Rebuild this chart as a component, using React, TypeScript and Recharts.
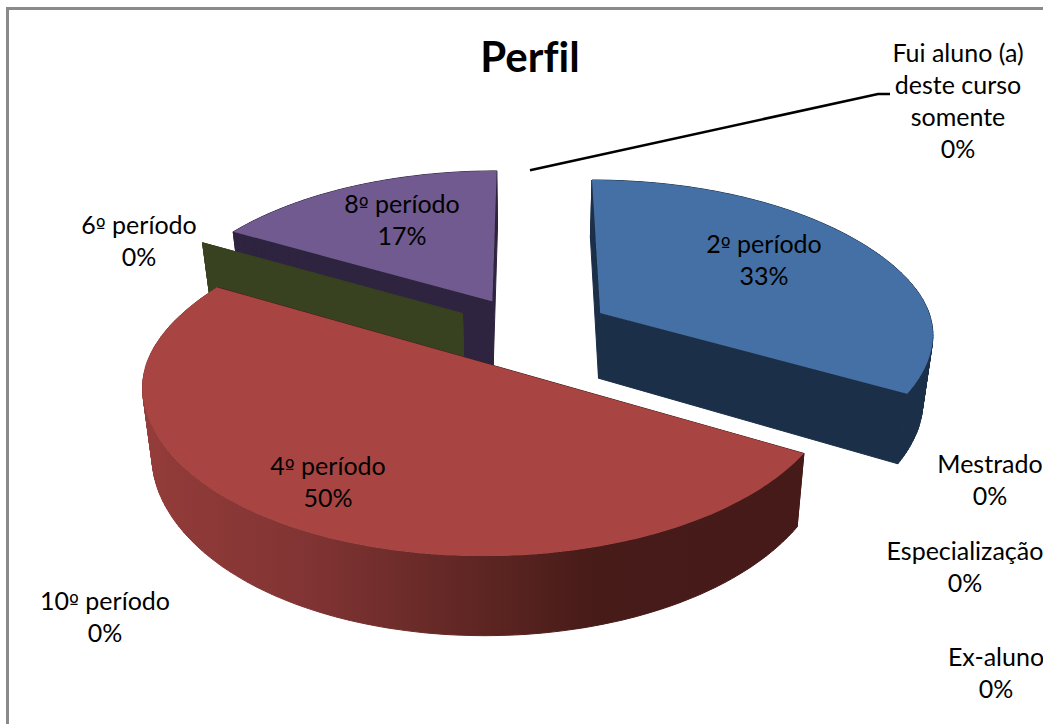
import { PieChart, Pie } from 'recharts';

const CATEGORIES = [
  '2º período', '4º período', '6º período', '8º período', '10º período',
  'Fui aluno (a)\ndeste curso\nsomente', 'Mestrado', 'Especialização', 'Ex-aluno',
];
const COUNTS = [2, 3, 0, 1, 0, 0, 0, 0, 0];

const TOP_COLORS = ['#4470a5', '#a84442', '#384220', '#705a8f', '#4bacc6', '#f79646', '#2c4d75', '#772c2a', '#5f7530'];
const WALL_COLORS = ['#1b2f48', 'url(#redWall)', '#384220', '#2e2440', '#2a6070', '#8a5020', '#1a2e46', '#471a19', '#394619'];
const EXPLODE = [0.25, 0.235, 0.24, 0.235, 0.235, 0.235, 0.235, 0.235, 0.235];

// centre x and first baseline of each data label, same order as CATEGORIES
const LABEL_X = [764, 328, 139, 402, 105, 958, 990, 965, 996];
const LABEL_Y = [253, 475, 234, 213, 610, 62, 473, 560, 666];
const LINE_HEIGHT = 32;

// slices are painted back to front, so each one gets its own Pie pass
const DRAW_ORDER = [3, 2, 1, 0];

const data = CATEGORIES.map((name, i) => ({ name, count: COUNTS[i] }));

const CX = 530;
const CY = 332;
const RADIUS = 330;
const SQUASH = 0.472;
const PERSPECTIVE = 0.136;
const DEPTH = 66.5;
const BOTTOM_SHRINK = 0.975;
const BULGE = 0.013;

const rad = (d: number) => (d * Math.PI) / 180;

// pie plane (u right, v towards the viewer) to screen
function project(cx: number, cy: number, r: number, u: number, v: number, bottom: boolean) {
  const w = 1 - PERSPECTIVE * v;
  const x = (r * u) / w;
  const y = cy + (r * SQUASH * v) / w;
  return bottom ? [cx + x * BOTTOM_SHRINK, y + DEPTH / w] : [cx + x, y];
}

const toPath = (pts: number[][]) =>
  'M' + pts.map(p => `${p[0].toFixed(1)},${p[1].toFixed(1)}`).join('L') + 'Z';

function sliceEdges(props: any) {
  const { cx, cy, outerRadius: r, startAngle, endAngle } = props;
  const e = EXPLODE[CATEGORIES.indexOf(props.name)];
  const mid = rad((startAngle + endAngle) / 2);
  const ox = e * Math.cos(mid);
  const oy = -e * Math.sin(mid);
  const steps = Math.max(1, Math.ceil(Math.abs(endAngle - startAngle)));
  const plane: number[][] = [];
  for (let i = 0; i <= steps; i++) {
    const a = rad(startAngle + ((endAngle - startAngle) * i) / steps);
    const m = 1 + BULGE * Math.pow(Math.cos(a), 12);
    plane.push([ox + m * Math.cos(a), oy - m * Math.sin(a)]);
  }
  const pt = (p: number[], bottom: boolean) => project(cx, cy, r, p[0], p[1], bottom);
  return {
    apexTop: pt([ox, oy], false),
    apexBottom: pt([ox, oy], true),
    arcTop: plane.map(p => pt(p, false)),
    arcBottom: plane.map(p => pt(p, true)),
  };
}

function Slice3D(props: any) {
  const i = CATEGORIES.indexOf(props.name);
  const { apexTop, apexBottom, arcTop, arcBottom } = sliceEdges(props);
  const last = arcTop.length - 1;
  const wall = WALL_COLORS[i];
  const flat = i === 1 ? '#451b18' : wall;
  // one quad per degree, an outline of the band would cancel out where it folds
  const band = arcTop
    .slice(0, last)
    .map((p, n) => toPath([p, arcTop[n + 1], arcBottom[n + 1], arcBottom[n]]))
    .join('');
  return (
    <g>
      <path d={toPath([apexTop, arcTop[0], arcBottom[0], apexBottom])} fill={flat} stroke={flat} strokeWidth={1} />
      <path d={toPath([apexTop, arcTop[last], arcBottom[last], apexBottom])} fill={flat} stroke={flat} strokeWidth={1} />
      {band && <path d={band} fill={wall} stroke={wall} strokeWidth={1} />}
      {props.endAngle !== props.startAngle && <path d={toPath([apexTop, ...arcTop])} fill={TOP_COLORS[i]} />}
    </g>
  );
}

function renderLabel(props: any) {
  const i = CATEGORIES.indexOf(props.name);
  const lines = [...CATEGORIES[i].split('\n'), `${Math.round(props.percent * 100)}%`];
  let leader = null;
  if (i === 5) {
    const tip = sliceEdges(props).arcTop[0];
    leader = (
      <polyline
        points={`${tip[0]},${tip[1] + 3} 878,94 890,94`}
        fill="none"
        stroke="#000"
        strokeWidth={2.6}
      />
    );
  }
  return (
    <g key={props.name}>
      {leader}
      <text x={LABEL_X[i]} y={LABEL_Y[i]} textAnchor="middle" fontSize={25} fontFamily="Lato" fill="#000">
        {lines.map((l, n) => (
          <tspan key={n} x={LABEL_X[i]} y={LABEL_Y[i] + n * LINE_HEIGHT}>
            {/* Lato draws º like a degree sign, the original has the underlined one */}
            {l.split(/(º)/).map((part, k) =>
              part === 'º' ? <tspan key={k} fontFamily="DejaVu Sans" fontSize={21}>º</tspan> : part,
            )}
          </tspan>
        ))}
      </text>
    </g>
  );
}

export default function App() {
  return (
    <div style={{ position: 'absolute', left: 0, top: 0, width: 1043, height: 724, overflow: 'hidden', background: '#fff' }}>
      <div style={{ position: 'absolute', left: 6, top: 7, width: 1040, height: 720, borderLeft: '3px solid #8a8a8a', borderTop: '3px solid #8a8a8a' }} />
      <div style={{ position: 'absolute', left: 0, top: 0 }}>
        <PieChart width={1043} height={724} margin={{ top: 0, right: 0, bottom: 0, left: 0 }}>
          <defs>
            <linearGradient id="redWall" gradientUnits="userSpaceOnUse" x1={145} y1={0} x2={805} y2={0}>
              <stop offset="0" stopColor="#943c3a" />
              <stop offset="0.25" stopColor="#803433" />
              <stop offset="0.5" stopColor="#5f2623" />
              <stop offset="0.68" stopColor="#471b18" />
              <stop offset="1" stopColor="#451a18" />
            </linearGradient>
          </defs>
          <text
            x={530}
            y={72}
            textAnchor="middle"
            fontSize={42}
            fontWeight={700}
            fontFamily="Lato"
            fill="#000"
            style={{ fontVariantLigatures: 'none' }}
          >
            Perfil
          </text>
          {DRAW_ORDER.map((layer, n) => (
            <Pie
              key={layer}
              data={data}
              dataKey="count"
              nameKey="name"
              cx={CX}
              cy={CY}
              innerRadius={0}
              outerRadius={RADIUS}
              startAngle={90}
              endAngle={-270}
              stroke="none"
              isAnimationActive={false}
              labelLine={false}
              label={n === DRAW_ORDER.length - 1 ? renderLabel : false}
              shape={(p: any) => (p.name === CATEGORIES[layer] ? <Slice3D {...p} /> : <g />)}
            />
          ))}
        </PieChart>
      </div>
    </div>
  );
}
